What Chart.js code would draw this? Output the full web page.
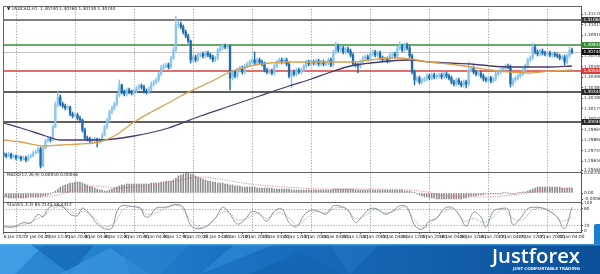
<!DOCTYPE html>
<html><head><meta charset="utf-8">
<script src="https://cdn.jsdelivr.net/npm/chart.js@4.4.1/dist/chart.umd.min.js"></script>
<style>
html,body{margin:0;padding:0;background:#fff;width:600px;height:274px;overflow:hidden}
#wrap{position:relative;width:600px;height:274px}
#c{position:absolute;left:0;top:0}
#banner{position:absolute;left:0;top:244px}
#corner{position:absolute;left:594px;top:224px;width:6px;height:20px;background:#1a7fd0;border-top-left-radius:2px}
</style></head><body>
<div id="wrap">
<canvas id="c" width="600" height="244"></canvas>
<div id="corner"></div>
<svg id="banner" width="600" height="30" viewBox="0 0 600 30">
<defs><linearGradient id="g" x1="0" x2="1" y1="0" y2="0"><stop offset="0" stop-color="#2b8ad6"/><stop offset="0.45" stop-color="#1a6ebf"/><stop offset="1" stop-color="#0b4f98"/></linearGradient></defs>
<rect width="600" height="30" fill="url(#g)"/>
<polygon points="0,0 45,0 15,30 0,30" fill="#45a3e8" opacity="0.8"/>
<polygon points="30,0 95,0 70,30" fill="#1467b3" opacity="0.7"/>
<polygon points="60,30 110,4 150,30" fill="#3a97df" opacity="0.7"/>
<polygon points="120,0 190,0 160,30 130,30" fill="#2a84d0" opacity="0.6"/>
<polygon points="200,30 235,0 275,0" fill="#3592dc" opacity="0.5"/>
<polygon points="250,30 300,8 340,30" fill="#1262ad" opacity="0.6"/>
<polygon points="330,0 380,0 350,30" fill="#2a82cc" opacity="0.35"/>
<rect width="600" height="1.5" fill="#5db4ee" opacity="0.6"/>
<text x="492" y="19" font-family="Open Sans" font-weight="600" font-size="19" fill="#fff" textLength="88" lengthAdjust="spacingAndGlyphs">Justforex</text>
<text x="513" y="25.5" font-family="Open Sans" font-weight="700" font-size="3.6" fill="#fff" textLength="67" lengthAdjust="spacingAndGlyphs">JUST COMFORTABLE TRADING</text>
</svg>
</div>
<script>
const titleText = "\u25BC USDCAD,H1  1.30740 1.30760 1.30730 1.30740";
const macdTitle = "MACD(12,26,9) 0.00050 0.00046";
const stochTitle = "Stoch(5,3,3) 85.2145 50.4312";

const firstOpen = 1.2972;
const closes = [1.2971,1.2970,1.2972,1.2969,1.2970,1.2968,1.2969,1.2967,1.2968,1.2966,
1.2969,1.2970,1.2973,1.2974,1.2977,1.2960,1.2978,1.2985,1.2987,1.2986,
1.2999,1.3021,1.3029,1.3022,1.3020,1.3018,1.3019,1.3012,1.3010,1.3011,
1.3008,1.3006,1.2996,1.2988,1.2987,1.2985,1.2986,1.2987,1.2985,1.2986,
1.2991,1.2999,1.3006,1.3014,1.3018,1.3022,1.3031,1.3041,1.3034,1.3032,
1.3036,1.3034,1.3033,1.3035,1.3038,1.3040,1.3039,1.3035,1.3034,1.3037,
1.3042,1.3044,1.3046,1.3052,1.3058,1.3060,1.3061,1.3059,1.3068,1.3076,
1.3101,1.3102,1.3099,1.3094,1.3090,1.3085,1.3066,1.3069,1.3066,1.3071,
1.3072,1.3070,1.3073,1.3071,1.3069,1.3066,1.3068,1.3076,1.3078,1.3080,
1.3079,1.3080,1.3048,1.3054,1.3050,1.3056,1.3058,1.3054,1.3060,1.3062,
1.3064,1.3066,1.3063,1.3066,1.3064,1.3062,1.3056,1.3054,1.3055,1.3053,
1.3060,1.3064,1.3066,1.3064,1.3066,1.3062,1.3050,1.3054,1.3052,1.3056,
1.3054,1.3056,1.3060,1.3064,1.3062,1.3064,1.3063,1.3065,1.3062,1.3064,
1.3062,1.3063,1.3066,1.3061,1.3074,1.3080,1.3076,1.3078,1.3074,1.3077,
1.3075,1.3071,1.3062,1.3061,1.3060,1.3064,1.3068,1.3069,1.3067,1.3072,
1.3074,1.3071,1.3073,1.3068,1.3066,1.3067,1.3065,1.3071,1.3072,1.3070,
1.3078,1.3080,1.3076,1.3081,1.3078,1.3070,1.3054,1.3046,1.3048,1.3044,
1.3046,1.3047,1.3050,1.3048,1.3051,1.3049,1.3050,1.3051,1.3049,1.3052,
1.3050,1.3048,1.3044,1.3042,1.3046,1.3043,1.3041,1.3044,1.3042,1.3056,
1.3058,1.3054,1.3052,1.3053,1.3050,1.3047,1.3046,1.3048,1.3045,1.3047,
1.3052,1.3054,1.3056,1.3058,1.3060,1.3059,1.3042,1.3046,1.3048,1.3050,
1.3052,1.3056,1.3060,1.3066,1.3068,1.3079,1.3074,1.3072,1.3075,1.3073,
1.3072,1.3073,1.3071,1.3072,1.3071,1.3070,1.3068,1.3069,1.3064,1.3070,
1.3076,1.3074];
const highs = [1.2974,1.2973,1.2974,1.2973,1.2972,1.2971,1.2971,1.2970,1.2970,1.2970,
1.2971,1.2972,1.2975,1.2976,1.2979,1.2979,1.2980,1.2987,1.2989,1.2989,
1.3001,1.3024,1.3034,1.3031,1.3024,1.3022,1.3021,1.3020,1.3014,1.3013,
1.3013,1.3010,1.3007,1.2998,1.2990,1.2989,1.2988,1.2989,1.2988,1.2988,
1.2993,1.3001,1.3008,1.3016,1.3020,1.3024,1.3033,1.3046,1.3042,1.3036,
1.3038,1.3038,1.3036,1.3037,1.3040,1.3042,1.3042,1.3041,1.3037,1.3039,
1.3044,1.3046,1.3048,1.3054,1.3061,1.3062,1.3063,1.3063,1.3070,1.3079,
1.3110,1.3105,1.3104,1.3101,1.3096,1.3092,1.3086,1.3071,1.3071,1.3073,
1.3074,1.3074,1.3075,1.3075,1.3073,1.3071,1.3070,1.3078,1.3080,1.3082,
1.3082,1.3082,1.3081,1.3056,1.3056,1.3058,1.3060,1.3060,1.3062,1.3064,
1.3066,1.3068,1.3074,1.3068,1.3068,1.3066,1.3064,1.3058,1.3057,1.3057,
1.3062,1.3066,1.3068,1.3068,1.3068,1.3068,1.3064,1.3056,1.3056,1.3058,
1.3058,1.3058,1.3062,1.3066,1.3066,1.3066,1.3066,1.3067,1.3067,1.3066,
1.3066,1.3065,1.3068,1.3068,1.3076,1.3084,1.3082,1.3080,1.3080,1.3079,
1.3079,1.3077,1.3073,1.3064,1.3063,1.3066,1.3070,1.3071,1.3071,1.3074,
1.3076,1.3076,1.3075,1.3075,1.3070,1.3069,1.3069,1.3073,1.3074,1.3074,
1.3080,1.3084,1.3082,1.3083,1.3083,1.3080,1.3072,1.3056,1.3050,1.3050,
1.3048,1.3049,1.3052,1.3052,1.3053,1.3053,1.3052,1.3053,1.3053,1.3054,
1.3054,1.3052,1.3050,1.3046,1.3048,1.3048,1.3045,1.3046,1.3046,1.3064,
1.3060,1.3060,1.3056,1.3055,1.3055,1.3052,1.3049,1.3050,1.3050,1.3049,
1.3054,1.3056,1.3058,1.3060,1.3062,1.3062,1.3061,1.3048,1.3050,1.3052,
1.3054,1.3058,1.3062,1.3068,1.3070,1.3083,1.3081,1.3076,1.3077,1.3077,
1.3075,1.3075,1.3075,1.3074,1.3074,1.3073,1.3072,1.3071,1.3071,1.3072,
1.3079,1.3078];
const lows = [1.2969,1.2968,1.2969,1.2967,1.2968,1.2966,1.2967,1.2965,1.2966,1.2964,
1.2965,1.2968,1.2969,1.2972,1.2973,1.2958,1.2959,1.2977,1.2984,1.2984,
1.2985,1.2998,1.3019,1.3020,1.3018,1.3016,1.3016,1.3010,1.3008,1.3009,
1.3006,1.3004,1.2994,1.2986,1.2985,1.2983,1.2983,1.2984,1.2979,1.2983,
1.2984,1.2990,1.2997,1.3004,1.3012,1.3016,1.3020,1.3029,1.3032,1.3030,
1.3030,1.3032,1.3031,1.3031,1.3033,1.3036,1.3037,1.3033,1.3032,1.3032,
1.3035,1.3040,1.3042,1.3044,1.3050,1.3056,1.3058,1.3057,1.3057,1.3066,
1.3074,1.3098,1.3097,1.3092,1.3088,1.3083,1.3063,1.3064,1.3064,1.3064,
1.3069,1.3068,1.3068,1.3069,1.3067,1.3064,1.3064,1.3066,1.3074,1.3076,
1.3077,1.3077,1.3036,1.3046,1.3048,1.3048,1.3054,1.3052,1.3052,1.3058,
1.3060,1.3062,1.3061,1.3061,1.3062,1.3060,1.3054,1.3052,1.3052,1.3051,
1.3051,1.3058,1.3062,1.3062,1.3062,1.3060,1.3048,1.3038,1.3050,1.3050,
1.3052,1.3052,1.3054,1.3058,1.3060,1.3060,1.3061,1.3061,1.3060,1.3060,
1.3060,1.3060,1.3061,1.3059,1.3059,1.3072,1.3074,1.3074,1.3072,1.3072,
1.3073,1.3069,1.3060,1.3059,1.3053,1.3058,1.3062,1.3066,1.3065,1.3065,
1.3070,1.3069,1.3069,1.3066,1.3064,1.3064,1.3063,1.3063,1.3069,1.3068,
1.3068,1.3076,1.3074,1.3074,1.3076,1.3068,1.3052,1.3041,1.3044,1.3042,
1.3042,1.3044,1.3045,1.3046,1.3046,1.3047,1.3047,1.3048,1.3047,1.3047,
1.3048,1.3046,1.3042,1.3040,1.3040,1.3041,1.3039,1.3039,1.3038,1.3040,
1.3054,1.3052,1.3050,1.3050,1.3048,1.3045,1.3044,1.3044,1.3043,1.3043,
1.3045,1.3050,1.3052,1.3054,1.3056,1.3057,1.3039,1.3040,1.3044,1.3046,
1.3048,1.3050,1.3054,1.3058,1.3064,1.3066,1.3072,1.3070,1.3070,1.3071,
1.3070,1.3070,1.3069,1.3069,1.3069,1.3068,1.3066,1.3066,1.3061,1.3062,
1.3068,1.3072];

const maFastIdx = [0,7,17,23,31,39,45,53,60,67,72,77,84,92,100,108,116,125,133,141,149,157,161,165,173,181,190,198,206,214,222,231];
const maFastVal = [1.2986,1.2984,1.2980,1.2981,1.2982,1.2984,1.2990,1.3004,1.3014,1.3023,1.3030,1.3036,1.3044,1.3054,1.3060,1.3063,1.3064,1.3064,1.3064,1.3064,1.3066,1.3068,1.3068,1.3067,1.3064,1.3062,1.3059,1.3056,1.3054,1.3053,1.3055,1.3056];
const maSlowIdx = [0,7,17,23,31,39,53,67,80,92,104,116,125,133,141,149,157,165,173,181,190,198,206,214,222,231];
const maSlowVal = [1.3003,1.2998,1.2990,1.2986,1.2986,1.2986,1.2990,1.2998,1.3010,1.3020,1.3030,1.3040,1.3047,1.3054,1.3060,1.3063,1.3065,1.3066,1.3064,1.3063,1.3062,1.3060,1.3059,1.3059,1.3059,1.3060];

const macdHist = [-0.0004,-0.0004,-0.0005,-0.0005,-0.0005,-0.0005,-0.0005,-0.0005,-0.0005,-0.0005,-0.0004,-0.0004,-0.0004,-0.0004,-0.0004,-0.0004,
-0.0003,-0.0003,-0.0002,-0.0001,0.00002,
0.0002,0.0004,0.0006,0.0007,0.0008,0.0009,0.0010,0.0010,0.0011,0.0011,0.0011,
0.0010,0.0009,0.0008,0.0007,0.0006,0.0005,0.0004,0.0003,0.0003,
0.0002,0.0002,0.0003,0.0004,0.0005,0.0006,
0.0007,0.0008,0.0008,0.0009,0.0009,0.0009,0.0009,0.0009,0.0009,0.0009,0.0009,0.0009,0.0009,0.0010,
0.0010,0.0010,0.0010,0.0011,0.0011,0.0012,0.0012,0.0012,0.0013,
0.0015,0.0017,0.0018,0.0019,0.0020,0.0020,0.0019,0.0019,
0.0017,0.0016,0.0015,0.0014,0.0013,0.0012,0.0012,0.0011,0.0011,0.0010,0.0010,0.0010,0.0009,
0.0009,0.0008,0.0008,0.0007,0.0007,0.0007,0.0006,0.0006,0.0006,0.0006,
0.0006,0.0006,0.0005,0.0005,0.0005,0.0005,0.0005,0.0005,0.0005,0.0004,0.0004,0.0004,0.0004,0.0004,0.0004,
0.0004,0.0003,0.0003,0.0003,0.0003,0.0003,0.0003,0.0003,0.0003,0.0003,0.0003,0.0003,0.0003,0.0003,0.0003,
0.0003,0.0003,0.0003,0.0004,0.0004,0.0004,0.0004,0.0004,0.0004,0.0004,0.0004,0.0004,0.0003,0.0003,0.0003,
0.0003,0.0003,0.0003,0.0003,0.0003,0.0003,0.0003,0.0003,0.0003,0.0003,0.0003,0.0003,0.0003,0.0003,0.0003,0.0003,0.0003,0.0002,0.0002,0.0002,
0.0001,0.00002,-0.0001,-0.0002,-0.0003,-0.0004,-0.0004,-0.0005,-0.0005,-0.0005,
-0.0006,-0.0006,-0.0006,-0.0006,-0.0006,-0.0006,-0.0006,-0.0006,-0.0006,-0.0006,-0.0006,-0.0005,-0.0005,-0.0004,-0.0003,
-0.0003,-0.0003,-0.0002,-0.0002,-0.0002,-0.0001,-0.0001,-0.0001,-0.0001,-0.0001,
-0.0001,-0.0001,0.00002,0.00002,-0.00002,-0.0001,-0.0001,-0.0001,0.00002,0.00002,0.0001,0.0001,
0.0002,0.0003,0.0004,0.0005,0.0006,0.0006,0.0006,0.0006,0.0006,0.0006,0.0006,0.0006,0.0006,0.0006,0.0005,0.0005,0.0005,0.0005,0.0005];
const macdSigIdx = [0,15,22,30,38,46,60,70,80,90,100,115,130,145,165,172,180,195,210,220,231];
const macdSigVal = [-0.0004,-0.0004,-0.0002,0.0004,0.0007,0.0005,0.0008,0.0012,0.0016,0.0013,0.0009,0.0006,0.0004,0.0004,0.0003,0.0001,-0.0003,-0.0004,-0.0001,0.0003,0.0005];

const stochMainIdx = [0,4,8,11,14,16,18,21,24,27,30,32,35,38,41,44,46,48,52,56,57,59,62,66,70,73,76,79,82,86,89,92,95,98,101,104,107,110,113,116,119,122,125,128,131,134,137,140,143,146,149,152,155,158,161,164,167,170,173,176,179,182,185,188,191,194,196,199,202,205,207,210,213,216,219,222,225,228,231];
const stochMainVal = [15,14,30,28,60,50,80,92,88,60,55,82,60,25,8,10,70,90,88,80,55,50,82,85,95,85,20,8,15,45,85,60,25,40,70,60,35,70,80,30,15,55,75,70,60,90,88,75,30,55,80,78,60,70,90,85,20,6,35,45,80,85,60,17,67,50,13,70,80,78,23,45,80,85,82,70,50,8,85];
const stochSigIdx = [0,5,9,13,17,21,25,29,33,37,41,45,49,54,58,62,66,71,75,79,83,87,91,95,99,103,107,111,115,119,123,127,131,135,139,143,147,151,155,159,163,167,171,175,179,183,187,191,195,199,203,207,211,215,219,223,227,231];
const stochSigVal = [18,16,25,40,60,85,82,62,70,45,15,30,80,85,60,65,82,90,50,15,18,55,70,40,45,65,45,65,55,22,45,70,65,82,80,45,55,75,65,72,85,40,12,40,70,80,35,45,30,50,78,45,40,75,82,65,35,50];

const levelPrices = [1.3106, 1.3081, 1.3055, 1.3034, 1.3004];
const currentPrice = 1.3074;
const priceTicks = [1.3112,1.31015,1.3091,1.30805,1.3070,1.30595,1.3049,1.30385,1.3028,1.30175,1.3007,1.29965,1.2986,1.29755,1.2965,1.2956];
const macdTicks = [0.0020, 0, -0.0006];
const stochTicks = [100, 80, 20, 0];
const stochLevels = [80, 20];
const xLabelIdx = [0,9,17,25,33,41,49,57,65,73,81,89,97,105,113,121,129,137,145,153,161,169,177,185,193,201,209,217,225];
const xLabels = ["6 Jan 2020","7 Jan 04:00","7 Jan 12:00","7 Jan 20:00","8 Jan 04:00","8 Jan 12:00","8 Jan 20:00","9 Jan 04:00","9 Jan 12:00","9 Jan 20:00","10 Jan 04:00","10 Jan 12:00","10 Jan 20:00","13 Jan 04:00","13 Jan 12:00","13 Jan 20:00","14 Jan 04:00","14 Jan 12:00","14 Jan 20:00","15 Jan 04:00","15 Jan 12:00","15 Jan 20:00","16 Jan 04:00","16 Jan 12:00","16 Jan 20:00","17 Jan 04:00","17 Jan 12:00","17 Jan 20:00","20 Jan 04:00"];
const daySepIdx = [5,29,53,77,101,125,149,173,197,221];

// ---- styling ----
const BULL = '#8cc5ea', BEAR = '#1f6cab';
const levelColors = ['#555555', '#3a8a3a', '#d8413b', '#2a2a2a', '#2a2a2a'];
const FONT = 'DejaVu Sans';

const opens = closes.map((c, i) => i === 0 ? firstOpen : closes[i - 1]);
const candleColor = i => closes[i] >= opens[i] ? BULL : BEAR;
const pts = (idx, vals) => idx.map((x, k) => ({x: x, y: vals[k]}));

const deco = {
  id: 'deco',
  beforeDatasetsDraw(chart) {
    const {ctx, chartArea: ca, scales} = chart;
    const x = scales.x, y = scales.y, yS = scales.yS;
    ctx.save();
    ctx.strokeStyle = '#8c8c8c'; ctx.lineWidth = 0.8; ctx.setLineDash([1.2, 1.6]);
    daySepIdx.forEach(d => {
      const px = Math.round(x.getPixelForValue(d)) + 0.5;
      ctx.beginPath(); ctx.moveTo(px, ca.top); ctx.lineTo(px, ca.bottom); ctx.stroke();
    });
    stochLevels.forEach(v => {
      const py = Math.round(yS.getPixelForValue(v)) + 0.5;
      ctx.beginPath(); ctx.moveTo(ca.left, py); ctx.lineTo(ca.right, py); ctx.stroke();
    });
    ctx.setLineDash([]);
    ctx.lineWidth = 1;
    ctx.strokeStyle = '#c4c4c4';
    let py = Math.round(y.getPixelForValue(currentPrice)) + 0.5;
    ctx.beginPath(); ctx.moveTo(ca.left, py); ctx.lineTo(ca.right, py); ctx.stroke();
    ctx.lineWidth = 1.3;
    levelPrices.forEach((v, k) => {
      const p = y.getPixelForValue(v);
      ctx.strokeStyle = levelColors[k];
      ctx.beginPath(); ctx.moveTo(ca.left, p); ctx.lineTo(ca.right, p); ctx.stroke();
    });
    ctx.restore();
  },
  afterDraw(chart) {
    const {ctx, chartArea: ca, scales} = chart;
    const y = scales.y, yM = scales.yM, yS = scales.yS;
    ctx.save();
    ctx.strokeStyle = '#666'; ctx.lineWidth = 1;
    [ca.top, yM.top, yS.top].forEach(t => {
      const p = Math.round(t) + 0.5;
      ctx.beginPath(); ctx.moveTo(ca.left, p); ctx.lineTo(ca.right, p); ctx.stroke();
    });
    ctx.beginPath(); ctx.moveTo(Math.round(ca.left) + 0.5, ca.top); ctx.lineTo(Math.round(ca.left) + 0.5, ca.bottom); ctx.stroke();
    ctx.fillStyle = '#222';
    ctx.font = '4.3px "' + FONT + '"';
    ctx.textBaseline = 'middle'; ctx.textAlign = 'left';
    ctx.fillText(titleText, ca.left + 4, ca.top + 3);
    ctx.fillText(macdTitle, ca.left + 4, yM.top + 3.2);
    ctx.fillText(stochTitle, ca.left + 4, yS.top + 3.2);
    const box = (v, col) => {
      const p = y.getPixelForValue(v);
      ctx.fillStyle = col;
      ctx.fillRect(ca.right + 0.5, p - 3, 19, 6);
      ctx.fillStyle = '#fff';
      ctx.fillText(v.toFixed(5), ca.right + 2.5, p + 0.2);
    };
    levelPrices.forEach((v, k) => box(v, k === 0 ? '#3a3a3a' : levelColors[k]));
    box(currentPrice, '#111');
    ctx.restore();
  }
};

const tickFont = {size: 4.3, family: FONT};
const yAxisBase = {
  type: 'linear', position: 'right', stack: 'panels', beginAtZero: false,
  afterFit: s => { s.width = 19; },
  grid: {drawOnChartArea: false, tickLength: 2, color: '#555'},
  border: {display: true, color: '#555', width: 1},
  ticks: {autoSkip: false, padding: 1, font: tickFont, color: '#333'}
};

new Chart(document.getElementById('c'), {
  type: 'bar',
  data: {
    datasets: [
      {type: 'line', data: pts(maFastIdx, maFastVal), yAxisID: 'y', borderColor: '#d6a24e', borderWidth: 1.3, pointRadius: 0, cubicInterpolationMode: 'monotone', fill: false},
      {type: 'line', data: pts(maSlowIdx, maSlowVal), yAxisID: 'y', borderColor: '#4b3a6c', borderWidth: 1.3, pointRadius: 0, cubicInterpolationMode: 'monotone', fill: false},
      {type: 'bar', data: closes.map((c, i) => ({x: i, y: [opens[i], c]})), yAxisID: 'y', grouped: false, barThickness: 1.7, minBarLength: 1,
        backgroundColor: ctx => candleColor(ctx.dataIndex), borderWidth: 0},
      {type: 'bar', data: closes.map((c, i) => ({x: i, y: [lows[i], highs[i]]})), yAxisID: 'y', grouped: false, barThickness: 0.8,
        backgroundColor: ctx => candleColor(ctx.dataIndex), borderWidth: 0},
      {type: 'line', data: pts(macdSigIdx, macdSigVal), yAxisID: 'yM', borderColor: '#d27878', borderWidth: 0.8, borderDash: [1.2, 1.2], pointRadius: 0, cubicInterpolationMode: 'monotone', fill: false},
      {type: 'bar', data: macdHist.map((v, i) => ({x: i, y: v})), yAxisID: 'yM', grouped: false, barThickness: 0.9, backgroundColor: '#8a8a8a', borderWidth: 0},
      {type: 'line', data: pts(stochMainIdx, stochMainVal), yAxisID: 'yS', borderColor: '#7d8b98', borderWidth: 0.9, pointRadius: 0, tension: 0.35, fill: false},
      {type: 'line', data: pts(stochSigIdx, stochSigVal), yAxisID: 'yS', borderColor: '#a9a9a9', borderWidth: 0.8, borderDash: [2, 1], pointRadius: 0, tension: 0.35, fill: false}
    ]
  },
  options: {
    responsive: false, animation: false, events: [],
    layout: {padding: {top: 6, left: 3, right: 0, bottom: 0}},
    plugins: {legend: {display: false}, tooltip: {enabled: false}},
    scales: {
      x: {
        type: 'linear', min: -0.28, max: 234.67, offset: false,
        afterBuildTicks: s => { s.ticks = xLabelIdx.map(v => ({value: v})); },
        afterFit: s => { s.height = 12; },
        grid: {display: true, drawOnChartArea: false, offset: false, tickLength: 2, color: '#555'},
        border: {display: true, color: '#555'},
        ticks: {autoSkip: false, maxRotation: 0, minRotation: 0, align: 'start', padding: 0.5, font: tickFont, color: '#222',
          callback: (v, i) => xLabels[i]}
      },
      y: Object.assign({}, yAxisBase, {
        stackWeight: 166, min: 1.2954, max: 1.3120,
        afterBuildTicks: s => { s.ticks = priceTicks.map(v => ({value: v})); },
        ticks: Object.assign({}, yAxisBase.ticks, {callback: v => v.toFixed(5)})
      }),
      yM: Object.assign({}, yAxisBase, {
        stackWeight: 30, min: -0.0009, max: 0.0021,
        afterBuildTicks: s => { s.ticks = macdTicks.map(v => ({value: v})); },
        ticks: Object.assign({}, yAxisBase.ticks, {callback: v => v === 0 ? '0.00' : v.toFixed(6)})
      }),
      yS: Object.assign({}, yAxisBase, {
        stackWeight: 30, min: -3.6, max: 103.6,
        afterBuildTicks: s => { s.ticks = stochTicks.map(v => ({value: v})); },
        ticks: Object.assign({}, yAxisBase.ticks, {callback: v => String(v)})
      })
    }
  },
  plugins: [deco]
});
</script>
</body></html>
